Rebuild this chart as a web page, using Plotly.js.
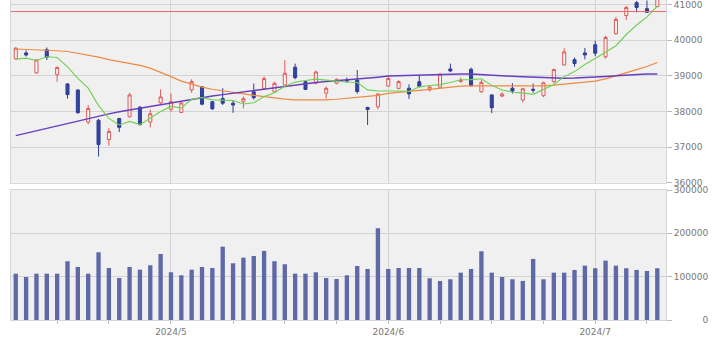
<!DOCTYPE html>
<html><head><meta charset="utf-8">
<script src="https://cdn.plot.ly/plotly-3.0.1.min.js"></script>
<style>html,body{margin:0;padding:0;background:#fff}#chart{width:720px;height:340px}</style>
</head><body><div id="chart"></div>
<script>
const dates = [
 '2024-04-09','2024-04-10','2024-04-11','2024-04-12','2024-04-15','2024-04-16','2024-04-17','2024-04-18','2024-04-19','2024-04-22',
 '2024-04-23','2024-04-24','2024-04-25','2024-04-26','2024-04-30','2024-05-01','2024-05-02','2024-05-07','2024-05-08','2024-05-09',
 '2024-05-10','2024-05-13','2024-05-14','2024-05-15','2024-05-16','2024-05-17','2024-05-20','2024-05-21','2024-05-22','2024-05-23',
 '2024-05-24','2024-05-27','2024-05-28','2024-05-29','2024-05-30','2024-05-31','2024-06-03','2024-06-04','2024-06-05','2024-06-06',
 '2024-06-07','2024-06-10','2024-06-11','2024-06-12','2024-06-13','2024-06-14','2024-06-17','2024-06-18','2024-06-19','2024-06-20',
 '2024-06-21','2024-06-24','2024-06-25','2024-06-26','2024-06-27','2024-06-28','2024-07-01','2024-07-02','2024-07-03','2024-07-04',
 '2024-07-05','2024-07-08','2024-07-09'];
const open = [
 39475,39640,39080,39730,39030,38770,38600,37700,37750,37210,
 37800,37850,38120,37700,38240,38060,37970,38600,38690,38270,
 38360,38230,38270,38550,38645,38550,38740,39240,38830,38790,
 38510,38790,38880,38880,38110,38130,38710,38645,38650,38830,
 38600,38680,39190,38840,39180,38550,38460,38430,38650,38320,
 38620,38440,38830,39300,39450,39640,39870,39530,40180,40690,
 41050,40880,40940];
const high = [
 39800,39710,39460,39790,39260,38790,38620,38180,37790,37530,
 37820,38520,38140,38050,38620,38500,38290,38900,38700,38290,
 38650,38300,38420,38780,38980,38830,39437,39340,38850,39150,
 38700,38920,38950,39160,38130,38510,39000,38870,38760,39000,
 38720,39080,39340,38950,39230,38880,38480,38540,38790,38660,
 38780,38830,39200,39770,39510,39780,39980,40120,40650,40960,
 41100,41110,41635];
const low = [
 39460,39540,39060,39440,38830,38360,37940,37640,36733,37040,
 37420,37830,37600,37550,38200,37990,37960,38520,38170,38040,
 38180,37960,38080,38330,38620,38530,38700,38900,38600,38760,
 38360,38760,38800,38500,37617,38060,38700,38620,38350,38670,
 38560,38650,39100,38800,38700,38520,37950,38400,38500,38250,
 38520,38400,38800,39280,39250,39460,39550,39480,40150,40560,
 40780,40760,40920];
const close = [
 39773,39582,39442,39523,39232,38471,37962,38079,37068,37438,
 37552,38460,37628,37934,38405,38274,38236,38835,38202,38073,
 38229,38179,38356,38385,38920,38787,39069,38946,38617,39103,
 38646,38900,38855,38556,38054,38487,38923,38837,38490,38703,
 38683,39038,39134,38876,38720,38814,38102,38482,38570,38633,
 38596,38804,39173,39667,39341,39583,39631,40074,40580,40913,
 40912,40780,41580];
const volume = [
 106900,99300,106900,106900,106900,135600,122400,106900,156300,120100,
 97000,122400,116200,126300,152400,110100,103200,116200,122400,120100,
 169300,130900,143900,147800,159400,135600,128600,106900,106900,110100,
 97000,94700,103200,124700,117800,211800,117800,120100,120100,120100,
 96300,90100,94000,109200,117800,158600,109200,99300,94000,90100,
 140900,94000,109200,109200,115500,125400,119400,137000,125400,119400,
 115500,113200,119400];
const ma5 = [
 39467,39493,39427,39533,39510,39250,38926,38653,38162,37804,
 37620,37719,37629,37802,37996,38140,38095,38337,38390,38324,
 38315,38304,38208,38244,38414,38525,38703,38821,38868,38904,
 38876,38842,38824,38812,38602,38570,38575,38571,38558,38688,
 38727,38750,38810,38887,38890,38916,38729,38599,38538,38520,
 38477,38617,38755,38975,39116,39314,39479,39659,39842,40156,
 40422,40652,40953];
const ma25 = [
 39749,39740,39730,39715,39700,39680,39630,39580,39520,39450,
 39400,39355,39290,39212,39100,38975,38850,38760,38680,38620,
 38570,38530,38490,38450,38410,38380,38345,38320,38316,38316,
 38320,38340,38364,38390,38410,38450,38505,38540,38570,38590,
 38615,38650,38690,38710,38715,38715,38712,38712,38712,38712,
 38712,38715,38735,38765,38790,38815,38850,38910,38990,39080,
 39170,39260,39370];
const ma75 = [
 37320,37390,37460,37530,37600,37670,37740,37810,37870,37930,
 37990,38040,38100,38150,38200,38250,38300,38340,38390,38430,
 38470,38510,38550,38590,38630,38670,38710,38750,38780,38810,
 38840,38860,38880,38900,38930,38960,38990,39000,39010,39020,
 39030,39040,39045,39050,39045,39035,39020,39000,38985,38970,
 38955,38945,38935,38930,38935,38945,38960,38980,39000,39020,
 39035,39045,39050];
const monthTickDates = ['2024-05-01','2024-06-03','2024-07-01'];
const monthTickLabels = ['2024/5','2024/6','2024/7'];
const mondayTickDates = ['2024-04-15','2024-04-22','2024-05-13','2024-05-20','2024-05-27','2024-06-10','2024-06-17','2024-06-24','2024-07-08'];
const priceTicks = [36000,37000,38000,39000,40000,41000];
const priceTickLabels = ['36000','37000','38000','39000','40000','41000'];
const volTicks = [0,100000,200000,300000];
const volTickLabels = ['\u2007\u2007\u2007\u2007\u20070','100000','200000','300000'];
const resistanceLevel = 40800;

const idx = dates.map((d, i) => i);
const pos = d => dates.indexOf(d);
const monthPos = monthTickDates.map(pos);
const mondayPos = mondayTickDates.map(pos);

const tickFont = {family: 'DejaVu Sans', size: 9, color: '#777'};
const grid = '#d3d3d3';
const border = '#d6d6d6';

const traces = [
  {type: 'bar', x: idx, y: volume, xaxis: 'x2', yaxis: 'y2', width: 0.42,
   marker: {color: '#5f69a7', line: {width: 0}}, hoverinfo: 'skip'},
  {type: 'candlestick', x: idx, open: open, high: high, low: low, close: close,
   xaxis: 'x', yaxis: 'y', whiskerwidth: 0,
   increasing: {line: {color: '#e05858', width: 1}, fillcolor: 'rgba(255,255,255,0.55)'},
   decreasing: {line: {color: '#2f3d98', width: 1}, fillcolor: '#34449c'},
   hoverinfo: 'skip'},
  {type: 'scatter', mode: 'lines', x: idx, y: ma25, xaxis: 'x', yaxis: 'y',
   line: {color: '#ee8a42', width: 1.2}, hoverinfo: 'skip'},
  {type: 'scatter', mode: 'lines', x: idx, y: ma75, xaxis: 'x', yaxis: 'y',
   line: {color: '#6a3fbf', width: 1.5}, hoverinfo: 'skip'},
  {type: 'scatter', mode: 'lines', x: idx, y: ma5, xaxis: 'x', yaxis: 'y',
   line: {color: '#6fd04f', width: 1.1}, hoverinfo: 'skip'}
];

const layout = {
  width: 720, height: 340,
  margin: {l: 11, r: 54, t: 0, b: 20, pad: 0},
  paper_bgcolor: '#ffffff', plot_bgcolor: '#f0f0f0',
  showlegend: false, boxgap: 0.58, bargap: 0.58,
  xaxis: {domain: [0, 1], anchor: 'y', range: [-0.46, 62.84], tickmode: 'array', tickvals: monthPos,
    showticklabels: false, ticks: '', showgrid: true, gridcolor: grid, zeroline: false,
    showline: true, linecolor: border, mirror: true, rangeslider: {visible: false}, fixedrange: true},
  xaxis2: {domain: [0, 1], anchor: 'y2', range: [-0.46, 62.84], tickmode: 'array', tickvals: monthPos,
    ticktext: monthTickLabels, ticks: 'outside', ticklen: 3, tickcolor: '#bbbbbb',
    minor: {tickmode: 'array', tickvals: mondayPos, ticks: 'outside', ticklen: 3, tickcolor: '#bbbbbb', showgrid: false},
    showgrid: true, gridcolor: grid, zeroline: false, showline: true, linecolor: border, mirror: true,
    tickfont: tickFont, fixedrange: true},
  yaxis: {domain: [0.4291, 1], anchor: 'x', side: 'right', range: [36000, 41124], tickmode: 'array',
    tickvals: priceTicks, ticktext: priceTickLabels, ticks: 'outside', ticklen: 5, tickcolor: '#bbbbbb',
    ticklabeloverflow: 'allow',
    showgrid: true, gridcolor: grid, zeroline: false, showline: true, linecolor: border, mirror: true,
    tickfont: tickFont, fixedrange: true},
  yaxis2: {domain: [0, 0.40625], anchor: 'x2', side: 'right', range: [0, 300000], tickmode: 'array',
    tickvals: volTicks, ticktext: volTickLabels, ticks: 'outside', ticklen: 5, tickcolor: '#bbbbbb',
    ticklabeloverflow: 'allow',
    showgrid: true, gridcolor: grid, zeroline: false, showline: true, linecolor: border, mirror: true,
    tickfont: tickFont, fixedrange: true},
  shapes: [{type: 'line', xref: 'x domain', x0: 0, x1: 1, yref: 'y', y0: resistanceLevel, y1: resistanceLevel,
    line: {color: '#e26a6a', width: 1}}]
};

Plotly.newPlot('chart', traces, layout, {staticPlot: true, displayModeBar: false});
</script>
</body></html>
